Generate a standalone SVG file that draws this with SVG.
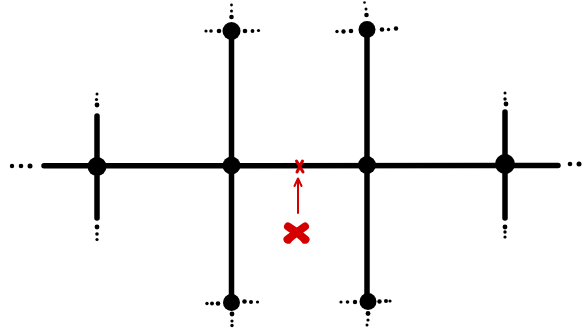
<svg xmlns="http://www.w3.org/2000/svg" width="583" height="333" viewBox="0 0 583 333">
<style>
.ln{stroke:#000;stroke-width:5.5;stroke-linecap:round;fill:none}
.nd{fill:#000}
.d{fill:#000}
.red{stroke:#d40000;fill:none;stroke-linecap:round;stroke-linejoin:round}
</style>
<rect width="583" height="333" fill="#fff"/>
<g id="connectors">
<line class="ln" x1="44" y1="165.8" x2="558" y2="165.5"/>
<line class="ln" x1="231.5" y1="31" x2="231.5" y2="302"/>
<line class="ln" x1="367" y1="29" x2="367" y2="301"/>
<line class="ln" x1="97" y1="116" x2="97" y2="218"/>
<line class="ln" x1="505" y1="112" x2="505" y2="218"/>
</g>
<g id="dots-left" class="d"><circle cx="12" cy="166" r="2.2"/><circle cx="21" cy="166" r="2.3"/><circle cx="30" cy="166" r="2.5"/></g>
<g id="dots-right" class="d"><circle cx="570" cy="164" r="2.3"/><circle cx="579" cy="164" r="2.5"/></g>
<g id="node-a"><circle class="nd" cx="97" cy="166.5" r="9.5"/>
<g class="d"><circle cx="97" cy="105" r="2.4"/><circle cx="96.5" cy="99.5" r="1.6"/><circle cx="97" cy="94" r="1.5"/><circle cx="97" cy="227" r="2.4"/><circle cx="97" cy="234" r="1.8"/><circle cx="97" cy="239.5" r="1.6"/></g></g>
<g id="node-b"><circle class="nd" cx="231.5" cy="165.5" r="9"/></g>
<g id="node-c"><circle class="nd" cx="367" cy="165" r="9"/></g>
<g id="node-d"><circle class="nd" cx="505" cy="164" r="10"/>
<g class="d"><circle cx="506" cy="104" r="2.4"/><circle cx="505" cy="99" r="1.7"/><circle cx="505" cy="93" r="1.5"/><circle cx="505" cy="227" r="2.4"/><circle cx="505" cy="232" r="1.7"/><circle cx="505" cy="237" r="1.6"/></g></g>
<g id="node-b-top"><circle class="nd" cx="231.5" cy="31" r="9"/>
<g class="d"><circle cx="231.5" cy="17" r="2.3"/><circle cx="231.5" cy="11" r="1.5"/><circle cx="231.5" cy="5" r="1.4"/><circle cx="219" cy="31" r="2.3"/><circle cx="211" cy="31" r="1.8"/><circle cx="206" cy="31" r="1.6"/><circle cx="245" cy="31" r="2.3"/><circle cx="252.5" cy="31" r="1.9"/><circle cx="258.5" cy="30.5" r="1.6"/></g></g>
<g id="node-c-top"><circle class="nd" cx="367" cy="29.5" r="8.5"/>
<g class="d"><circle cx="366.5" cy="15" r="2.3"/><circle cx="366" cy="9" r="1.5"/><circle cx="364.5" cy="2.5" r="1.3"/><circle cx="351" cy="31" r="2.3"/><circle cx="343.5" cy="31.5" r="2.2"/><circle cx="337" cy="31.5" r="1.7"/><circle cx="382" cy="29.5" r="2.3"/><circle cx="388.5" cy="29.5" r="1.7"/><circle cx="396" cy="28.5" r="2.2"/></g></g>
<g id="node-b-bottom"><circle class="nd" cx="231.5" cy="302.5" r="8.5"/>
<g class="d"><circle cx="218" cy="303.5" r="2.3"/><circle cx="212" cy="303.5" r="2"/><circle cx="207" cy="303.5" r="1.7"/><circle cx="244.5" cy="301.5" r="2.3"/><circle cx="251" cy="302" r="2"/><circle cx="257.5" cy="302" r="1.6"/><circle cx="232" cy="314" r="2.4"/><circle cx="232" cy="321" r="1.6"/><circle cx="232" cy="325.5" r="1.7"/></g></g>
<g id="node-c-bottom"><circle class="nd" cx="368" cy="301.5" r="8.5"/>
<g class="d"><circle cx="355" cy="302" r="2.2"/><circle cx="347.5" cy="302" r="1.8"/><circle cx="341" cy="302" r="1.6"/><circle cx="379.5" cy="301.5" r="2.2"/><circle cx="386" cy="301" r="2"/><circle cx="390" cy="301" r="1.6"/><circle cx="368" cy="313.5" r="2.4"/><circle cx="368" cy="320" r="1.6"/><circle cx="367" cy="325" r="1.5"/></g></g>
<g id="red-mark">
<path class="red" stroke-width="3" d="M296.5 161 L303 172 M302.5 161 L297 172"/>
<path class="red" stroke-width="2" d="M298 213 L298 179 M294.5 186 L298 178.5 L301.5 186"/>
<path class="red" stroke-width="8" d="M288 226.5 Q297 232 305.5 239.5 M287.5 239.5 Q297 232 305 226.5"/>
<path class="red" stroke-width="5" d="M289 241 L291 238 M304 241 L302 238"/>
</g>
</svg>
